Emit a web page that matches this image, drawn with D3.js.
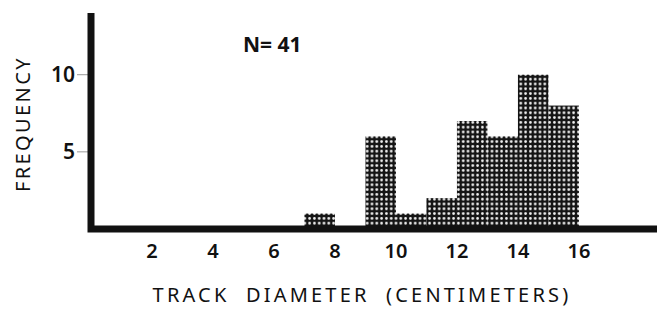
<!DOCTYPE html>
<html lang="en">
<head>
<meta charset="UTF-8">
<title>Track Diameter Histogram</title>
<script src="https://d3js.org/d3.v7.min.js"></script>
<style>
  body { margin: 0; background: #fff; }
  svg text { font-family: "Noto Sans", "DejaVu Sans", sans-serif; fill: #111; }
</style>
</head>
<body>
<div id="chart"></div>
<script>
// histogram bins (cm) and counts
const binStart = [7, 9, 10, 11, 12, 13, 14, 15];
const binEnd   = [8, 10, 11, 12, 13, 14, 15, 16];
const counts   = [1, 6, 1, 2, 7, 6, 10, 8];
const xTicks = [2, 4, 6, 8, 10, 12, 14, 16];
const yTicks = [5, 10];
const total = d3.sum(counts);

const W = 657, H = 322;
const x = d3.scaleLinear().domain([0, 18.56]).range([91, 657]);
const y = d3.scaleLinear().domain([0, 14]).range([229, 13]);

const svg = d3.select("#chart").append("svg")
    .attr("width", W).attr("height", H);

// halftone dot fill
const pat = svg.append("defs").append("pattern")
    .attr("id", "dots")
    .attr("patternUnits", "userSpaceOnUse")
    .attr("width", 4.8).attr("height", 4.8);
pat.append("rect").attr("width", 4.8).attr("height", 4.8).attr("fill", "#141414");
pat.append("circle").attr("cx", 2.4).attr("cy", 2.4).attr("r", 1.35).attr("fill", "#f4f4f4");

// bars
svg.selectAll(".bar")
  .data(counts)
  .enter().append("rect")
    .attr("class", "bar")
    .attr("x", (d, i) => x(binStart[i]))
    .attr("width", (d, i) => x(binEnd[i]) - x(binStart[i]))
    .attr("y", d => y(d))
    .attr("height", d => y(0) - y(d))
    .attr("fill", "url(#dots)");

// y tick marks and labels
svg.selectAll(".ytick")
  .data(yTicks)
  .enter().append("line")
    .attr("x1", 77).attr("x2", 88)
    .attr("y1", d => y(d)).attr("y2", d => y(d))
    .attr("stroke", "#999").attr("stroke-width", 1);

svg.selectAll(".ylab")
  .data(yTicks)
  .enter().append("text")
    .attr("x", 75).attr("y", d => y(d))
    .attr("dy", "0.36em")
    .attr("text-anchor", "end")
    .style("font-size", "21px").style("font-weight", 600)
    .text(d => d);

// x tick labels
svg.selectAll(".xlab")
  .data(xTicks)
  .enter().append("text")
    .attr("x", d => x(d)).attr("y", 258)
    .attr("text-anchor", "middle")
    .style("font-size", "20px").style("font-weight", 600)
    .text(d => d);

// axes (thick black lines)
svg.append("path")
    .attr("d", `M${x(0)},${y(14)} V${y(0)} H${W}`)
    .attr("fill", "none")
    .attr("stroke", "#111")
    .attr("stroke-width", 7)
    .attr("stroke-linejoin", "miter");

// axis titles
svg.append("text")
    .attr("transform", `translate(30,${y(6.8)}) rotate(-90)`)
    .attr("text-anchor", "middle")
    .style("font-size", "20px").style("letter-spacing", "2.4px")
    .text("FREQUENCY");

svg.append("text")
    .attr("x", 362).attr("y", 302)
    .attr("text-anchor", "middle")
    .style("font-size", "20px").style("letter-spacing", "3.2px")
    .style("word-spacing", "8px")
    .text("TRACK DIAMETER (CENTIMETERS)");

svg.append("text")
    .attr("x", 243).attr("y", 52)
    .style("font-size", "21px").style("font-weight", 700)
    .text(`N= ${total}`);
</script>
</body>
</html>
